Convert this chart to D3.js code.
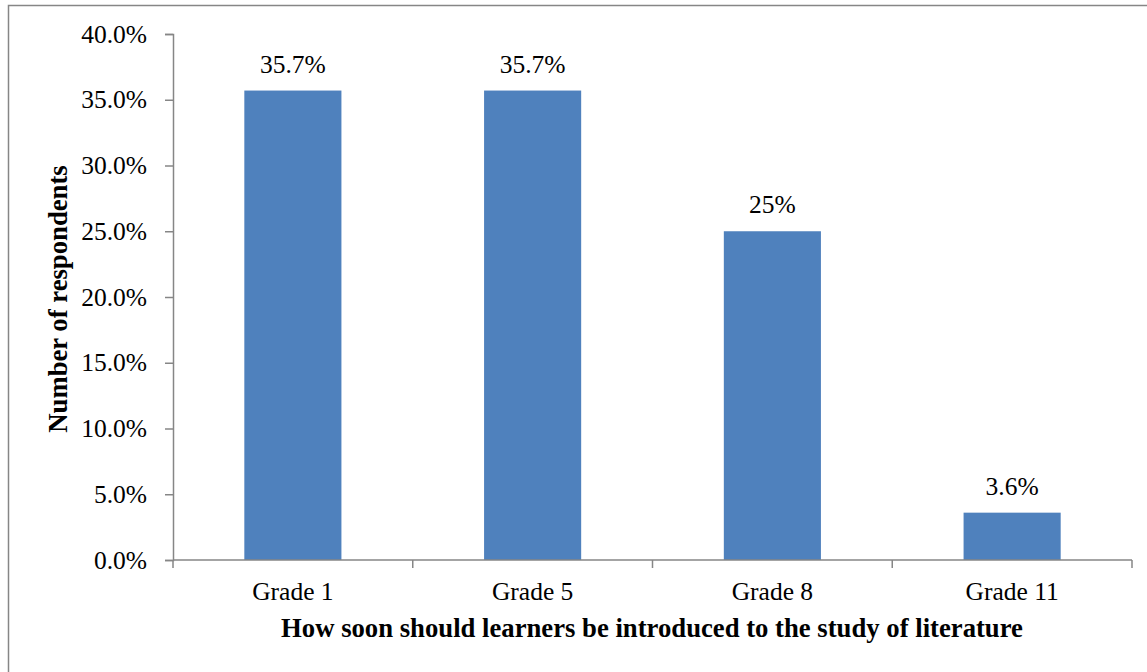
<!DOCTYPE html>
<html>
<head>
<meta charset="utf-8">
<script src="https://cdn.jsdelivr.net/npm/d3@7"></script>
<style>
  html, body { margin: 0; padding: 0; background: #fff; }
  svg { display: block; }
</style>
</head>
<body>
<svg id="chart" width="1147" height="672"></svg>
<script>
// Survey responses: when learners should start studying literature
const categories = ["Grade 1", "Grade 5", "Grade 8", "Grade 11"];
const values = [35.7, 35.7, 25, 3.6];
const valueLabels = ["35.7%", "35.7%", "25%", "3.6%"];
const yTicks = [0, 5, 10, 15, 20, 25, 30, 35, 40];

const serif = "'Liberation Serif', 'Times New Roman', serif";
const svg = d3.select("#chart");
const axisColor = "#868686";

// outer frame
svg.append("rect")
  .attr("x", 8.5).attr("y", 5.5)
  .attr("width", 1160).attr("height", 700)
  .attr("fill", "none").attr("stroke", axisColor).attr("stroke-width", 1.5);

const plotLeft = 173, plotRight = 1132, plotTop = 34, plotBottom = 560;

const x = d3.scaleBand().domain(categories).range([plotLeft, plotRight])
  .paddingInner(0.595).paddingOuter(0.2975);
const y = d3.scaleLinear().domain([0, 40]).range([plotBottom, plotTop]);

// bars
svg.append("g").selectAll("rect").data(values).join("rect")
  .attr("x", (d, i) => x(categories[i]))
  .attr("y", d => y(d))
  .attr("width", x.bandwidth())
  .attr("height", d => y(0) - y(d))
  .attr("fill", "#4F81BD");

// value labels
svg.append("g").selectAll("text").data(values).join("text")
  .attr("x", (d, i) => x(categories[i]) + x.bandwidth() / 2)
  .attr("y", d => y(d) - 18)
  .attr("text-anchor", "middle")
  .style("font-family", serif)
  .style("font-size", "25.5px")
  .attr("fill", "#000")
  .text((d, i) => valueLabels[i]);

// y axis
const yAxis = svg.append("g")
  .attr("transform", `translate(${plotLeft},0)`)
  .call(d3.axisLeft(y).tickValues(yTicks).tickSize(8).tickPadding(18)
    .tickFormat(d => d.toFixed(1) + "%"));
yAxis.select(".domain").attr("stroke", axisColor).attr("stroke-width", 1.5);
yAxis.selectAll(".tick line").attr("stroke", axisColor).attr("stroke-width", 1.5);
yAxis.selectAll(".tick text")
  .style("font-family", serif)
  .style("font-size", "25.5px")
  .attr("fill", "#000");

// x axis: ticks at category boundaries
const xAxisG = svg.append("g").attr("transform", `translate(0,${plotBottom})`);
xAxisG.append("line")
  .attr("x1", plotLeft).attr("x2", plotRight).attr("y1", 0).attr("y2", 0)
  .attr("stroke", axisColor).attr("stroke-width", 1.5);
const step = x.step();
const boundaries = d3.range(categories.length + 1).map(i => plotLeft + i * step);
xAxisG.selectAll("line.b").data(boundaries).join("line")
  .attr("class", "b")
  .attr("x1", d => d).attr("x2", d => d).attr("y1", 0).attr("y2", 8)
  .attr("stroke", axisColor).attr("stroke-width", 1.5);
xAxisG.selectAll("text").data(categories).join("text")
  .attr("x", d => x(d) + x.bandwidth() / 2)
  .attr("y", 40)
  .attr("text-anchor", "middle")
  .style("font-family", serif)
  .style("font-size", "25.5px")
  .attr("fill", "#000")
  .text(d => d);

// axis titles
svg.append("text")
  .attr("x", 652).attr("y", 637)
  .attr("text-anchor", "middle")
  .style("font-family", serif)
  .style("font-size", "26.7px").style("font-weight", "bold")
  .attr("fill", "#000")
  .text("How soon should learners be introduced to the study of literature");

svg.append("text")
  .attr("transform", "translate(67,299) rotate(-90)")
  .attr("text-anchor", "middle")
  .style("font-family", serif)
  .style("font-size", "26.7px").style("font-weight", "bold")
  .attr("fill", "#000")
  .text("Number of respondents");
</script>
</body>
</html>
